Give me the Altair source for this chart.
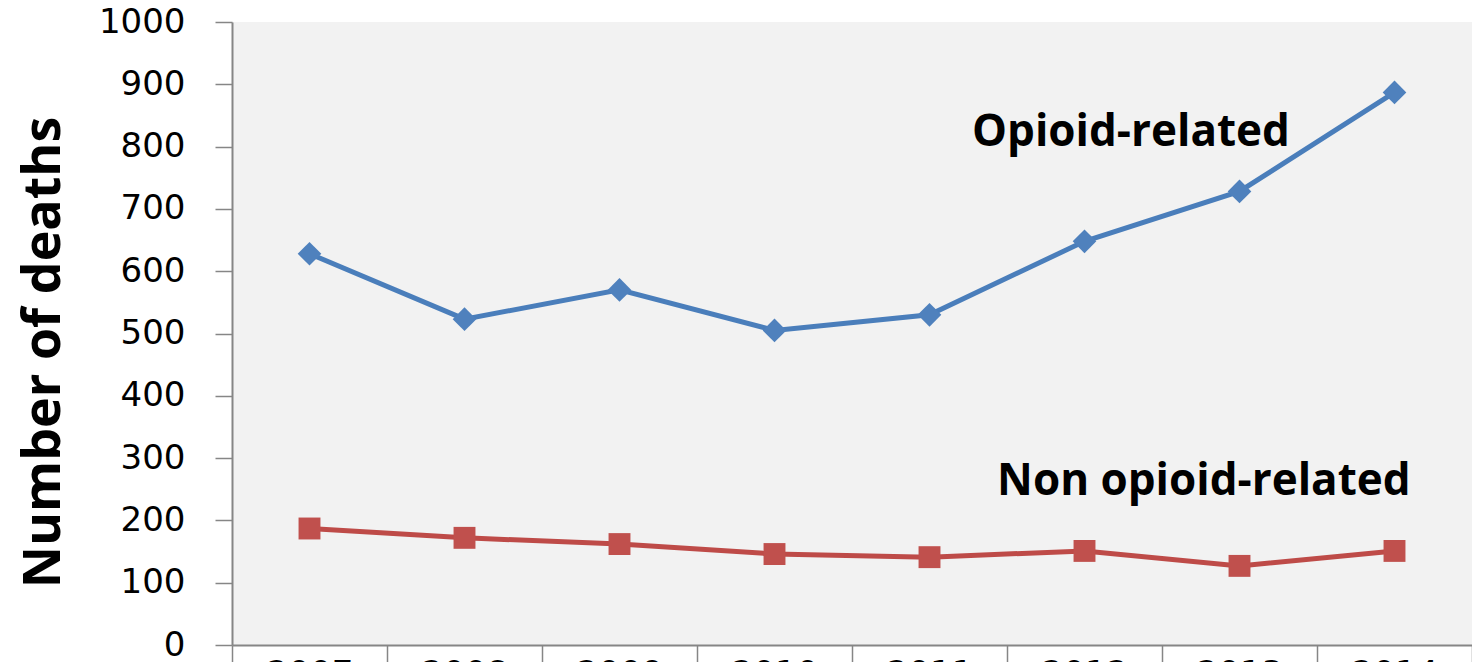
import altair as alt
import pandas as pd

# ---- data ----
years = ["2007", "2008", "2009", "2010", "2011", "2012", "2013", "2014"]
opioid_deaths = [628, 523, 570, 505, 530, 648, 728, 887]
non_opioid_deaths = [187, 172, 162, 146, 141, 151, 127, 151]
series_names = ["Opioid-related", "Non opioid-related"]
y_tick_values = [0, 100, 200, 300, 400, 500, 600, 700, 800, 900, 1000]

df = pd.DataFrame({
    "year": years * 2,
    "deaths": opioid_deaths + non_opioid_deaths,
    "series": [series_names[0]] * len(years) + [series_names[1]] * len(years),
})

# annotation anchors (in data units)
ann_opioid = pd.DataFrame({"label": [series_names[0]], "year": ["2012"], "deaths": [822]})
ann_non = pd.DataFrame({"label": [series_names[1]], "year": ["2013"], "deaths": [262]})

AXIS_GRAY = "#868686"

x_scale = alt.Scale(type="band", domain=years, paddingInner=0, paddingOuter=0)
y_scale = alt.Scale(domain=[0, 1000], nice=False, zero=True)

x_axis = alt.Axis(
    title=None, tickBand="extent", tickSize=24, labelPadding=-12,
    labelFont="DejaVu Sans", labelFontSize=34, labelColor="#000000",
    labelAngle=0, domainColor=AXIS_GRAY, tickColor=AXIS_GRAY,
    domainWidth=2, tickWidth=1.5, grid=False, labelOverlap=False,
)
y_axis = alt.Axis(
    title="Number of deaths", values=y_tick_values, format="d", tickSize=17, labelPadding=30,
    labelFont="DejaVu Sans", labelFontSize=34, labelColor="#000000",
    domainColor=AXIS_GRAY, tickColor=AXIS_GRAY, domainWidth=2, tickWidth=1.5,
    grid=False, titleFont="Open Sans", titleFontWeight="bold", titleFontSize=52,
    titleColor="#000000", titleX=-173, titleY=330, titleAngle=270,
    titleBaseline="alphabetic", titleAlign="center",
)


def xy(band=0.5):
    return dict(
        x=alt.X("year:O", scale=x_scale, axis=x_axis, bandPosition=band),
        y=alt.Y("deaths:Q", scale=y_scale, axis=y_axis),
    )


base = alt.Chart(df)
layers = []
styles = [
    (series_names[0], "#4a7ebb", "#4f81bd", "diamond", 560),
    (series_names[1], "#be4b48", "#c0504d", "square", 480),
]
for name, line_color, marker_color, shape, msize in styles:
    sub = base.transform_filter(alt.datum.series == name)
    layers.append(sub.mark_line(color=line_color, strokeWidth=5).encode(**xy()))
    layers.append(
        sub.mark_point(shape=shape, filled=True, size=msize, color=marker_color, opacity=1)
        .encode(**xy())
    )

text_style = dict(font="Open Sans", fontWeight="bold", fontSize=44, color="#000000",
                  align="center", baseline="middle")
layers.append(alt.Chart(ann_opioid).mark_text(**text_style).encode(text="label:N", **xy(0.8)))
layers.append(alt.Chart(ann_non).mark_text(**text_style).encode(text="label:N", **xy(0.27)))

chart = (
    alt.layer(*layers)
    .properties(
        width=1240, height=623,
        padding={"left": 232, "top": 22, "right": 0, "bottom": 60},
        autosize=alt.AutoSizeParams(type="none"),
        background="white",
    )
    .configure_view(fill="#f2f2f2", strokeWidth=0)
)

chart.save("out.html", embed_options={"renderer": "svg", "actions": False})
